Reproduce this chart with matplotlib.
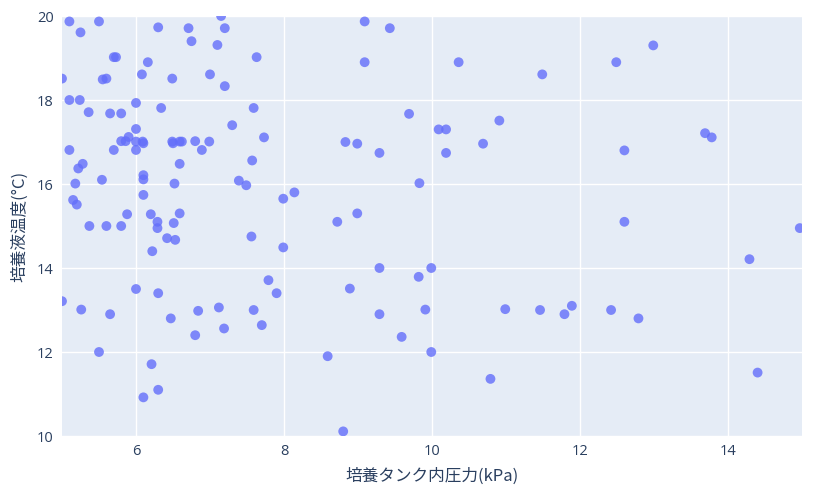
import numpy as np
import matplotlib.pyplot as plt
import matplotlib.ticker as ticker

# Datos: presión [kPa] y temperatura [°C]
presion = [
    5.10, 5.50, 5.25, 6.30, 6.71, 6.75, 7.15, 7.20, 7.10, 5.70, 5.73, 6.16, 7.63,
    5.00, 5.55, 5.60, 6.08, 6.49, 7.00, 7.20, 5.10, 5.24, 6.00, 6.34, 7.59,
    5.36, 5.65, 5.80, 7.30, 6.00, 7.73, 5.90, 5.80, 5.86, 6.00, 6.09, 6.10,
    6.49, 6.50, 6.59, 6.62, 6.80, 6.99, 5.10, 5.70, 6.00, 6.89, 6.59, 5.28,
    5.22, 6.10, 6.10, 5.18, 5.54, 6.52, 7.39, 7.49, 7.57, 6.10, 5.15, 5.20,
    7.99, 8.14, 5.88, 6.20, 6.59, 6.29, 6.51, 5.37, 5.60, 5.80, 6.29,
    6.42, 6.53, 7.56, 7.99, 6.22, 5.00, 5.26, 5.65, 6.00, 6.30, 6.47, 6.84,
    7.12, 7.59, 7.79, 7.90, 7.19, 7.70, 6.80, 5.50, 6.21, 6.30, 6.10,
    9.09, 9.43, 9.09, 10.36, 11.49, 9.69, 10.09, 10.19, 10.91, 8.83, 8.99,
    9.29, 10.19, 10.69, 9.83, 8.99, 8.72, 9.29, 9.99, 9.82, 8.89, 9.91,
    9.29, 10.99, 11.46, 9.59, 9.99, 8.59, 10.79, 8.80,
    12.49, 12.99, 12.60, 13.69, 13.78, 12.60, 14.97, 14.29, 11.79, 11.89,
    12.42, 12.79, 14.40,
]
temperatura = [
    19.87, 19.87, 19.61, 19.73, 19.71, 19.40, 20.00, 19.71, 19.31, 19.02, 19.02, 18.90, 19.02,
    18.51, 18.49, 18.51, 18.61, 18.51, 18.61, 18.33, 18.00, 18.00, 17.93, 17.81, 17.81,
    17.71, 17.68, 17.68, 17.40, 17.31, 17.11, 17.12, 17.02, 17.02, 17.01, 17.01, 16.97,
    17.01, 16.97, 17.01, 17.01, 17.02, 17.01, 16.81, 16.81, 16.81, 16.81, 16.48, 16.48,
    16.37, 16.21, 16.11, 16.01, 16.10, 16.01, 16.08, 15.97, 16.56, 15.74, 15.62, 15.51,
    15.65, 15.80, 15.28, 15.28, 15.30, 15.10, 15.07, 15.00, 15.00, 15.00, 14.95,
    14.71, 14.67, 14.75, 14.49, 14.40, 13.21, 13.01, 12.90, 13.50, 13.40, 12.80, 12.98,
    13.06, 13.00, 13.71, 13.40, 12.56, 12.64, 12.40, 12.00, 11.71, 11.10, 10.92,
    19.87, 19.71, 18.90, 18.90, 18.61, 17.67, 17.30, 17.30, 17.51, 17.00, 16.96,
    16.74, 16.74, 16.96, 16.02, 15.30, 15.10, 14.00, 14.00, 13.79, 13.51, 13.01,
    12.90, 13.02, 13.00, 12.36, 12.00, 11.90, 11.36, 10.11,
    18.90, 19.30, 16.80, 17.21, 17.11, 15.10, 14.95, 14.21, 12.90, 13.10,
    13.00, 12.80, 11.51,
]

fuente_jp = ['Noto Sans CJK JP', 'DejaVu Sans']
color_texto = '#2a3f5f'

fig = plt.figure(figsize=(8.13, 4.95), dpi=100)
ax = fig.add_axes([62/813, 59/495, 740/813, 420/495])
ax.set_facecolor('#e5ecf6')

ax.scatter(presion, temperatura, s=50, color='#636efa', alpha=0.8,
           edgecolors='none', zorder=3, clip_on=True)

ax.set_xlim(5, 15)
ax.set_ylim(10, 20)
ax.set_xticks([6, 8, 10, 12, 14])
ax.set_yticks([10, 12, 14, 16, 18, 20])

ax.grid(True, color='white', linewidth=1.0, zorder=0)
ax.set_axisbelow(True)
for s in ax.spines.values():
    s.set_visible(False)
ax.tick_params(length=0, labelsize=10.5, labelcolor=color_texto, pad=6)
for lbl in ax.get_xticklabels() + ax.get_yticklabels():
    lbl.set_family(['Open Sans', 'DejaVu Sans'])

ax.set_xlabel('培養タンク内圧力(kPa)', family=fuente_jp, fontsize=12,
              color=color_texto, labelpad=6)
ax.set_ylabel('培養液温度(°C)', family=fuente_jp, fontsize=12,
              color=color_texto, labelpad=6)

fig.savefig('out.png', dpi=100)
